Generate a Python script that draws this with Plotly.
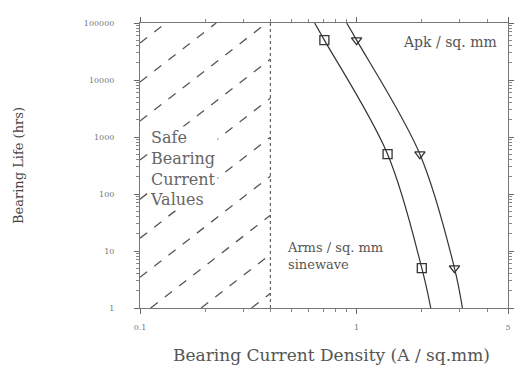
import numpy as np
import plotly.graph_objects as go

# ---- data ----
life_hrs = [100000, 50000, 500, 5, 1]
arms_density = [0.64, 0.71, 1.39, 2.0, 2.2]      # Arms / sq. mm sinewave
apk_density = [0.9, 1.0, 1.96, 2.83, 3.08]       # Apk / sq. mm
marker_idx = [1, 2, 3]
safe_limit = 0.4
x_range = [0.1, 5]
y_range = [1, 100000]
x_ticks = [0.1, 1, 5]
x_ticklabels = ["0.1", "1", "5"]
y_ticks = [1, 10, 100, 1000, 10000, 100000]
y_ticklabels = ["1", "10", "100", "1000", "10000", "100000"]

FONT = "DejaVu Serif, Liberation Serif, serif"
fig = go.Figure()

# hatching of the safe region (computed from axis ranges)
lx0, lx1 = np.log10(x_range[0]), np.log10(x_range[1])
ly0, ly1 = np.log10(y_range[0]), np.log10(y_range[1])
xf_safe = (np.log10(safe_limit) - lx0) / (lx1 - lx0)
for k in range(12):
    c = 0.93 - 0.137 * k
    s = max(0.0, -c)
    e = min(xf_safe, 1 - c)
    if s >= e:
        continue
    xf = np.array([s, e])
    yf = xf + c
    fig.add_trace(go.Scatter(
        x=10 ** (lx0 + xf * (lx1 - lx0)), y=10 ** (ly0 + yf * (ly1 - ly0)),
        mode="lines", line=dict(color="#555", width=1.3, dash="dash"),
        hoverinfo="skip", showlegend=False))

# safe limit dotted line
fig.add_trace(go.Scatter(x=[safe_limit, safe_limit], y=y_range, mode="lines",
                         line=dict(color="#666", width=1.2, dash="dot"),
                         showlegend=False, hoverinfo="skip"))

for dens, sym in [(arms_density, "square-open"), (apk_density, "triangle-down-open")]:
    fig.add_trace(go.Scatter(x=dens, y=life_hrs, mode="lines",
                             line=dict(color="#333", width=1.2, shape="spline"),
                             showlegend=False))
    fig.add_trace(go.Scatter(x=[dens[i] for i in marker_idx],
                             y=[life_hrs[i] for i in marker_idx], mode="markers",
                             marker=dict(symbol=sym, size=9, color="#333",
                                         line=dict(width=1.3, color="#333")),
                             showlegend=False))

axis_common = dict(type="log", showgrid=False, zeroline=False, showline=True,
                   linecolor="#777", linewidth=1, mirror="allticks",
                   ticks="outside", ticklen=5, tickcolor="#666",
                   tickfont=dict(family=FONT, size=8, color="#777"))
fig.update_xaxes(range=[lx0, lx1], tickvals=x_ticks, ticktext=x_ticklabels,
                 minor=dict(ticks="outside", ticklen=3, tickcolor="#888",
                            tickvals=[0.2, 0.3, 0.4, 0.5, 0.6, 0.7, 0.8, 0.9, 2, 3, 4]),
                 ticklabelstandoff=6, **axis_common)
fig.update_yaxes(range=[ly0, ly1], tickvals=y_ticks, ticktext=y_ticklabels,
                 minor=dict(ticks="outside", ticklen=3, tickcolor="#888",
                            tickvals=[m * 10 ** d for d in range(5) for m in range(2, 10)]),
                 ticklabelstandoff=18, **axis_common)

ann = [
    dict(x=0.022, y=0.49, xref="paper", yref="paper", xanchor="left", yanchor="middle",
         align="left", text="Safe<br>Bearing<br>Current<br>Values",
         font=dict(family=FONT, size=16, color="#666"), bgcolor="white", borderpad=1),
    dict(x=0.975, y=0.935, xref="paper", yref="paper", xanchor="right", yanchor="middle",
         text="Apk / sq. mm", font=dict(family=FONT, size=14, color="#555")),
    dict(x=0.394, y=0.182, xref="paper", yref="paper", xanchor="left", yanchor="middle",
         align="left", text="Arms / sq. mm<br>sinewave",
         font=dict(family=FONT, size=13, color="#555")),
    dict(x=-0.33, y=0.5, xref="paper", yref="paper", xanchor="center", yanchor="middle",
         textangle=-90, text="Bearing Life (hrs)",
         font=dict(family=FONT, size=13, color="#444")),
    dict(x=0.52, y=-0.165, xref="paper", yref="paper", xanchor="center", yanchor="middle",
         text="Bearing Current Density (A / sq.mm)",
         font=dict(family=FONT, size=17, color="#555")),
]
for a in ann:
    a["showarrow"] = False
fig.update_layout(width=526, height=374, margin=dict(l=140, r=18, t=23, b=66),
                  paper_bgcolor="white", plot_bgcolor="white", annotations=ann,
                  showlegend=False)
fig.write_html("out.html")
